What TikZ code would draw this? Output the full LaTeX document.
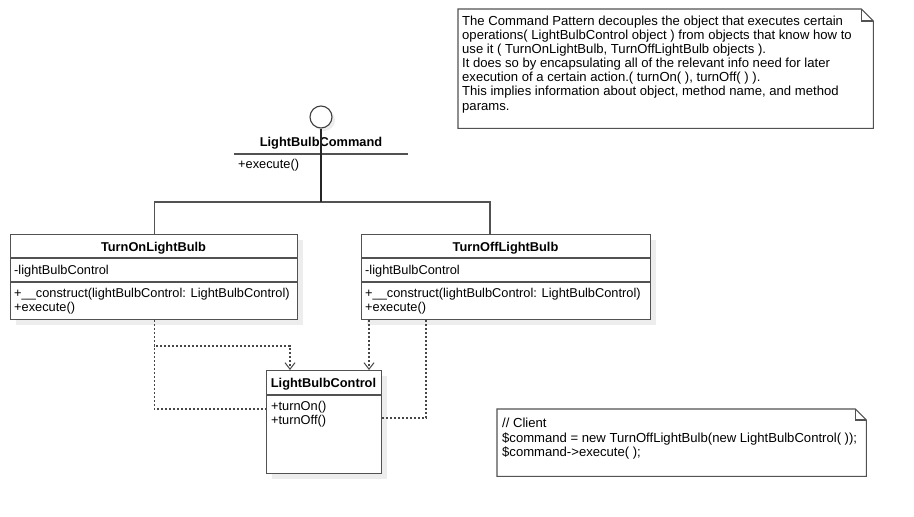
\documentclass[tikz,border=0pt]{standalone}
\usepackage{fontspec}
\setmainfont{Liberation Sans}
\usetikzlibrary{arrows.meta,calc}
\begin{document}
\begin{tikzpicture}[x=1pt,y=-1pt,
  line/.style={draw=black!68, line width=1.1pt},
  box/.style={line, fill=white, rectangle, inner sep=0pt, anchor=north west},
  txt/.style={anchor=base west, inner sep=0pt, font=\fontsize{12.8}{14.4}\selectfont},
  ntxt/.style={anchor=base west, inner sep=0pt, font=\fontsize{13.1}{14.4}\selectfont},
  ttl/.style={anchor=base, inner sep=0pt, font=\fontsize{12.8}{14.4}\selectfont\bfseries},
  dep/.style={draw=black!72, line width=1.1pt, dash pattern=on 2pt off 2pt},
  gen/.style={draw=black!68, line width=1.1pt},
  tip/.style={-{Straight Barb[length=6.5pt,width=10pt,line width=1pt]}},
  shade/.style={fill=black!7},
  frame/.style={anchor=north west, inner sep=0pt, rectangle}
]
\useasboundingbox[fill=white] (0,0) rectangle (914,517);

% shadows
\fill[shade] (16,240) rectangle (303,325);
\fill[shade] (367,240) rectangle (656,325);
\fill[shade] (272,376) rectangle (387,479);
\fill[shade] (324,120) circle (11);

% class boxes
\node[box, minimum width=287pt, minimum height=85pt] (on) at (10,234) {};
\node[box, minimum width=289pt, minimum height=85pt] (off) at (361,234) {};
\node[box, minimum width=115pt, minimum height=103pt] (ctrl) at (266,370) {};

% compartments
\draw[line] ($(on.north west)+(0,24)$) -- ($(on.north east)+(0,24)$);
\draw[line] ($(on.north west)+(0,48)$) -- ($(on.north east)+(0,48)$);
\draw[line] ($(off.north west)+(0,24)$) -- ($(off.north east)+(0,24)$);
\draw[line] ($(off.north west)+(0,48)$) -- ($(off.north east)+(0,48)$);
\draw[line] ($(ctrl.north west)+(0,25)$) -- ($(ctrl.north east)+(0,25)$);

% texts of TurnOnLightBulb
\node[ttl] (onT) at (153.5,251) {TurnOnLightBulb};
\node[txt] (onA) at (14,274) {-lightBulbControl};
\node[txt] (onO1) at (14,297) {+\_\_construct(lightBulbControl: LightBulbControl)};
\node[txt] (onO2) at (14,311) {+execute()};

% texts of TurnOffLightBulb
\node[ttl] (offT) at (505.5,251) {TurnOffLightBulb};
\node[txt] (offA) at (365,274) {-lightBulbControl};
\node[txt] (offO1) at (365,297) {+\_\_construct(lightBulbControl: LightBulbControl)};
\node[txt] (offO2) at (365,311) {+execute()};

% texts of LightBulbControl
\node[ttl] (ctrlT) at (323.5,387) {LightBulbControl};
\node[txt] (ctrlO1) at (271,410) {+turnOn()};
\node[txt] (ctrlO2) at (271,424) {+turnOff()};

% interface
\node[circle, draw=black!75, line width=1.1pt, fill=white, minimum size=22pt, inner sep=0pt] (iface) at (321,117) {};
\node[ttl] (ifaceT) at (321,146) {LightBulbCommand};
\coordinate (ifl) at (234,154);
\coordinate (ifr) at (408,154);
\draw[line] (ifl) -- (ifr);
\node[txt] (ifaceO) at (238,168) {+execute()};

% generalization connectors
\coordinate (j) at (321,202);
\draw[gen] (on.north) |- (j);
\draw[gen] (j) -| ($(off.north west)+(129,0)$);
\draw[line width=1.7pt, draw=black!85] (iface.south) -- (j);

% dependencies
\coordinate (a1) at ($(ctrl.north west)+(24,0)$);
\draw[dep,tip] (on.south) |- ($(a1)+(0,-24)$) -- (a1);
\draw[dep] (on.south) |- ($(ctrl.north west)+(0,39)$);
\draw[dep,tip] ($(off.south west)+(8,0)$) -- ($(ctrl.north west)+(103,0)$);
\draw[dep] ($(off.south west)+(65,0)$) |- ($(ctrl.north east)+(0,48)$);

% note 1
\node[frame, minimum width=415pt, minimum height=119pt] (note1) at (458,9) {};
\draw[line, fill=white] (note1.north west) -- ($(note1.north east)+(-12,0)$) -- ($(note1.north east)+(0,12)$) -- (note1.south east) -- (note1.south west) -- cycle;
\draw[line] ($(note1.north east)+(-12,0)$) -- ++(0,12) -- ++(12,0);
\node[ntxt] (n1a) at (462,25) {The Command Pattern decouples the object that executes certain};
\node[ntxt] (n1b) at (462,39.2) {operations( LightBulbControl object ) from objects that know how to};
\node[ntxt] (n1c) at (462,53.3) {use it ( TurnOnLightBulb, TurnOffLightBulb objects ).};
\node[ntxt] (n1d) at (462,67.5) {It does so by encapsulating all of the relevant info need for later};
\node[ntxt] (n1e) at (462,81.7) {execution of a certain action.( turnOn( ), turnOff( ) ).};
\node[ntxt] (n1f) at (462,95.8) {This implies information about object, method name, and method};
\node[ntxt] (n1g) at (462,110) {params.};

% note 2
\node[frame, minimum width=369pt, minimum height=67pt] (note2) at (497,409) {};
\draw[line, fill=white] (note2.north west) -- ($(note2.north east)+(-11,0)$) -- ($(note2.north east)+(0,11)$) -- (note2.south east) -- (note2.south west) -- cycle;
\draw[line] ($(note2.north east)+(-11,0)$) -- ++(0,11) -- ++(11,0);
\node[ntxt] (n2a) at (502,427) {// Client};
\node[ntxt] (n2b) at (502,442) {\$command = new TurnOffLightBulb(new LightBulbControl( ));};
\node[ntxt] (n2c) at (502,456) {\$command->execute( );};
\end{tikzpicture}
\end{document}
